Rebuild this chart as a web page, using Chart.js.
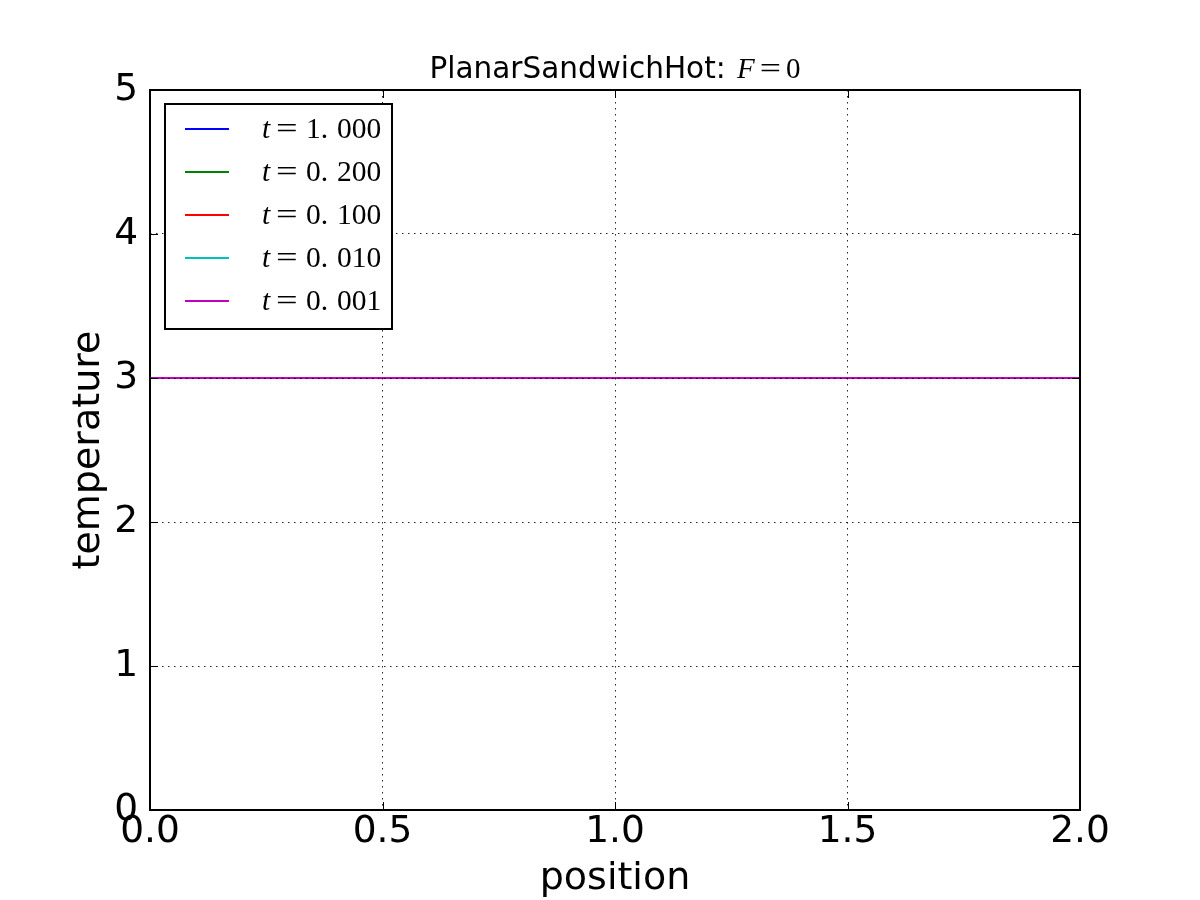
<!DOCTYPE html>
<html>
<head>
<meta charset="utf-8">
<script src="https://cdn.jsdelivr.net/npm/chart.js@4"></script>
<style>
  html, body { margin: 0; padding: 0; background: #fff; }
  #wrap { width: 1200px; height: 900px; }
</style>
</head>
<body>
<div id="wrap"><canvas id="chart" width="1200" height="900"></canvas></div>
<script>
// data: every profile is flat at 3
const positions = [0.0, 0.5, 1.0, 1.5, 2.0];
const temp_t1000 = [3, 3, 3, 3, 3];
const temp_t0200 = [3, 3, 3, 3, 3];
const temp_t0100 = [3, 3, 3, 3, 3];
const temp_t0010 = [3, 3, 3, 3, 3];
const temp_t0001 = [3, 3, 3, 3, 3];
const seriesLabels = ['t=1.000', 't=0.200', 't=0.100', 't=0.010', 't=0.001'];
const seriesColors = ['#0000ff', '#008000', '#ff0000', '#00bfbf', '#bf00bf'];
const xTicks = [0.0, 0.5, 1.0, 1.5, 2.0];
const yTicks = [0, 1, 2, 3, 4, 5];
const titleText = 'PlanarSandwichHot: ';
const titleMath = ['F', '=', '0'];

const allSeries = [temp_t1000, temp_t0200, temp_t0100, temp_t0010, temp_t0001];

const datasets = allSeries.map((vals, i) => ({
    label: seriesLabels[i],
    data: positions.map((x, j) => ({ x: x, y: vals[j] })),
    borderColor: seriesColors[i],
    backgroundColor: seriesColors[i],
    borderWidth: 2,
    pointRadius: 0,
    fill: false,
    tension: 0,
    order: allSeries.length - i // last series ends up on top, like matplotlib
}));

const tickFont = { family: 'DejaVu Sans', size: 37.5, lineHeight: 1.2 };
const labelFont = { family: 'DejaVu Sans', size: 38, lineHeight: 1 };

// mathtext-ish '=' is wider than the Times one, so stretch it a bit
function wideEq(ctx, x, y, sx) {
    ctx.save();
    ctx.translate(x, y);
    ctx.scale(sx, 1);
    ctx.fillText('=', 0, 0);
    ctx.restore();
}

// frame, inward ticks, legend box and mixed-font title
const mplDecor = {
    id: 'mplDecor',
    afterDraw(chart) {
        const ctx = chart.ctx;
        const a = chart.chartArea;
        const xs = chart.scales.x, ys = chart.scales.y;
        ctx.save();

        // inward ticks on all four sides
        ctx.strokeStyle = '#000';
        ctx.lineWidth = 1;
        ctx.beginPath();
        xTicks.forEach(v => {
            const px = Math.round(xs.getPixelForValue(v)) + 0.5;
            ctx.moveTo(px, a.bottom); ctx.lineTo(px, a.bottom - 8);
            ctx.moveTo(px, a.top); ctx.lineTo(px, a.top + 8);
        });
        yTicks.forEach(v => {
            const py = Math.round(ys.getPixelForValue(v)) + 0.5;
            ctx.moveTo(a.left, py); ctx.lineTo(a.left + 8, py);
            ctx.moveTo(a.right, py); ctx.lineTo(a.right - 8, py);
        });
        ctx.stroke();

        // axes frame
        ctx.lineWidth = 2;
        ctx.strokeRect(a.left, a.top, a.right - a.left, a.bottom - a.top);

        // legend
        const bx = a.left + 15, by = a.top + 14, bw = 227, bh = 225;
        ctx.fillStyle = '#fff';
        ctx.fillRect(bx, by, bw, bh);
        ctx.strokeRect(bx, by, bw, bh);
        chart.data.datasets.forEach((ds, i) => {
            const ly = by + 25 + i * 43;
            ctx.strokeStyle = ds.borderColor;
            ctx.lineWidth = 2;
            ctx.beginPath();
            ctx.moveTo(bx + 20, ly); ctx.lineTo(bx + 64, ly);
            ctx.stroke();

            const tx = bx + 97, base = ly + 9;
            const parts = ds.label.split('=');
            const num = parts[1].split('.');
            ctx.fillStyle = '#000';
            ctx.textBaseline = 'alphabetic';
            ctx.textAlign = 'left';
            ctx.font = 'italic 29.5px "Liberation Serif"';
            ctx.fillText(parts[0], tx, base);
            ctx.font = '29.5px "Liberation Serif"';
            wideEq(ctx, tx + 14, base, 1.3);
            ctx.fillText(num[0] + '.', tx + 44, base);
            ctx.fillText(num[1], tx + 75, base);
        });

        // title
        ctx.fillStyle = '#000';
        ctx.textBaseline = 'alphabetic';
        ctx.textAlign = 'left';
        ctx.font = '29.5px "DejaVu Sans"';
        const w1 = ctx.measureText(titleText).width;
        ctx.font = 'italic 29px "Liberation Serif"';
        const wF = ctx.measureText(titleMath[0]).width;
        ctx.font = '29px "Liberation Serif"';
        const wEq = ctx.measureText(titleMath[1]).width * 1.3;
        const w0 = ctx.measureText(titleMath[2]).width;
        const total = w1 + 2 + wF + 5 + wEq + 5 + w0;
        let x0 = (a.left + a.right) / 2 - total / 2;
        const ty = a.top - 12;
        ctx.font = '29.5px "DejaVu Sans"';
        ctx.fillText(titleText, x0, ty);
        x0 += w1 + 2;
        ctx.font = 'italic 29px "Liberation Serif"';
        ctx.fillText(titleMath[0], x0, ty);
        x0 += wF + 5;
        ctx.font = '29px "Liberation Serif"';
        wideEq(ctx, x0, ty, 1.3);
        x0 += wEq + 5;
        ctx.fillText(titleMath[2], x0, ty);

        ctx.restore();
    }
};

new Chart(document.getElementById('chart'), {
    type: 'line',
    data: { datasets: datasets },
    options: {
        responsive: false,
        animation: false,
        devicePixelRatio: 1,
        layout: { padding: { left: 0, top: 90, right: 120, bottom: 0 } },
        plugins: {
            legend: { display: false },
            tooltip: { enabled: false },
            title: { display: false }
        },
        scales: {
            x: {
                type: 'linear',
                min: 0,
                max: 2,
                afterBuildTicks: (s) => { s.ticks = xTicks.map(v => ({ value: v })); },
                afterFit: (s) => { s.height = 90; },
                ticks: {
                    color: '#000',
                    font: tickFont,
                    padding: 0,
                    maxRotation: 0,
                    callback: (v) => Number(v).toFixed(1)
                },
                grid: {
                    z: 1,
                    color: 'rgba(0,0,0,0.85)',
                    lineWidth: 1,
                    drawTicks: false
                },
                border: { display: false, dash: [1.5, 4.5] },
                title: {
                    display: true,
                    text: 'position',
                    color: '#000',
                    font: labelFont,
                    padding: { top: 0, bottom: 2 }
                }
            },
            y: {
                type: 'linear',
                min: 0,
                max: 5,
                afterBuildTicks: (s) => { s.ticks = yTicks.map(v => ({ value: v })); },
                afterFit: (s) => { s.width = 150; },
                ticks: {
                    color: '#000',
                    font: tickFont,
                    padding: 12,
                    callback: (v) => String(v)
                },
                grid: {
                    z: 1,
                    color: 'rgba(0,0,0,0.85)',
                    lineWidth: 1,
                    drawTicks: false
                },
                border: { display: false, dash: [1.5, 4.5] },
                title: {
                    display: true,
                    text: 'temperature',
                    color: '#000',
                    font: labelFont,
                    padding: { top: 70, bottom: 0 }
                }
            }
        }
    },
    plugins: [mplDecor]
});
</script>
</body>
</html>
